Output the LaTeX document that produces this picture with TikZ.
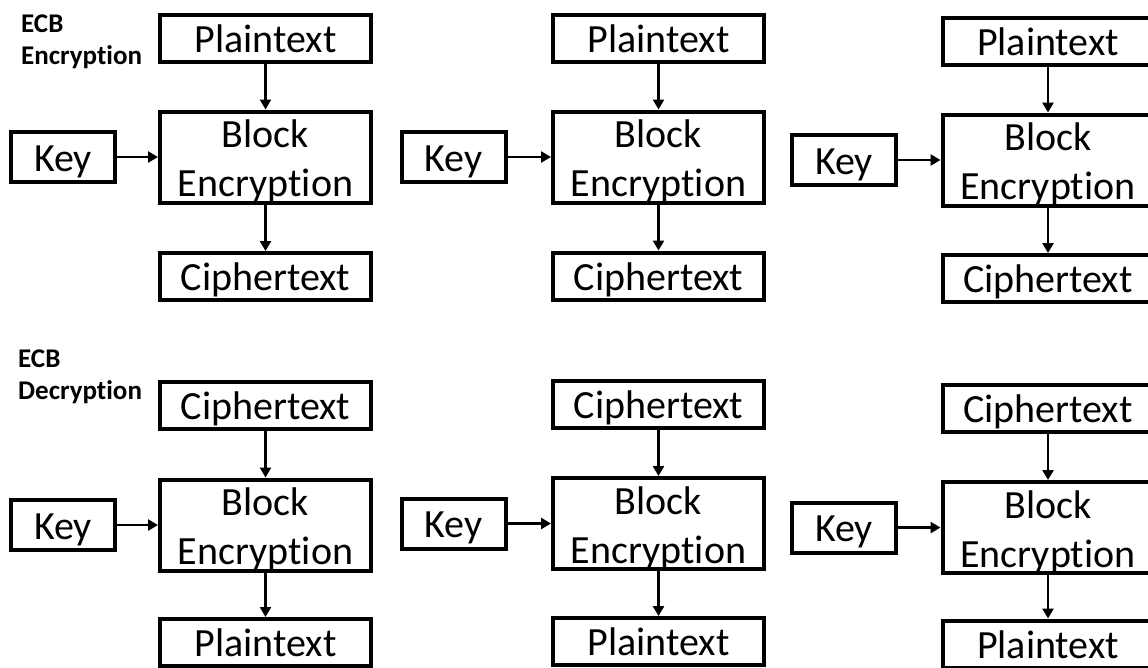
\documentclass[tikz,border=0pt]{standalone}
\usepackage{fontspec}
\setmainfont[Ligatures=NoCommon]{Carlito}
\usetikzlibrary{arrows.meta}

\begin{document}
\begin{tikzpicture}[x=1pt, y=-1pt,
		box/.style={draw, line width=4pt, inner sep=0pt, font=\fontsize{40}{49}\selectfont},
		txt/.style={box, minimum width=211pt, minimum height=47pt, text height=28pt, text depth=0pt},
		blk/.style={box, minimum width=211pt, minimum height=91pt, align=center, text height=79pt, text depth=0pt},
		keybox/.style={box, minimum width=104pt, minimum height=50pt, text height=28pt, text depth=0pt},
		arr/.style={line width=2.6pt, -{Triangle[length=10pt, width=11pt]}},
		title/.style={anchor=north west, align=left, inner sep=0pt, font=\fontsize{27}{32}\selectfont\bfseries}]
		\useasboundingbox (0,0) rectangle (1148,667);
		% ECB encryption
		\node[title] (enc) at (21,15) {ECB\\Encryption};
		\node[txt] (pt1) at (265.5,38) {Plaintext};
		\node[blk] (be1) at (265.5,157) {Block\\Encryption};
		\node[txt] (ct1) at (265.5,276.5) {Ciphertext};
		\node[keybox] (key1) at (63,157) {Key};
		\node[txt] (pt2) at (658.5,38) {Plaintext};
		\node[blk] (be2) at (658.5,157) {Block\\Encryption};
		\node[txt] (ct2) at (658.5,276) {Ciphertext};
		\node[keybox] (key2) at (453.5,157) {Key};
		\node[txt] (pt3) at (1048,41) {Plaintext};
		\node[blk] (be3) at (1048,160) {Block\\Encryption};
		\node[txt] (ct3) at (1048,278.5) {Ciphertext};
		\node[keybox] (key3) at (844,160) {Key};
		\draw[arr] (pt1) -- (be1);
		\draw[arr] (be1) -- (ct1);
		\draw[arr] (key1) -- (be1);
		\draw[arr] (pt2) -- (be2);
		\draw[arr] (be2) -- (ct2);
		\draw[arr] (key2) -- (be2);
		\draw[arr] (pt3) -- (be3);
		\draw[arr] (be3) -- (ct3);
		\draw[arr] (key3) -- (be3);
		% ECB decryption
		\node[title] (dec) at (18,350) {ECB\\Decryption};
		\node[txt] (ct4) at (265.5,405) {Ciphertext};
		\node[blk] (be4) at (265.5,525) {Block\\Encryption};
		\node[txt] (pt4) at (265.5,642.5) {Plaintext};
		\node[keybox] (key4) at (63,525) {Key};
		\node[txt] (ct5) at (658.5,404.5) {Ciphertext};
		\node[blk] (be5) at (658.5,523.5) {Block\\Encryption};
		\node[txt] (pt5) at (658.5,641.5) {Plaintext};
		\node[keybox] (key5) at (453.5,523.5) {Key};
		\node[txt] (ct6) at (1048,408.5) {Ciphertext};
		\node[blk] (be6) at (1048,527.5) {Block\\Encryption};
		\node[txt] (pt6) at (1048,644) {Plaintext};
		\node[keybox] (key6) at (844,527.5) {Key};
		\draw[arr] (ct4) -- (be4);
		\draw[arr] (be4) -- (pt4);
		\draw[arr] (key4) -- (be4);
		\draw[arr] (ct5) -- (be5);
		\draw[arr] (be5) -- (pt5);
		\draw[arr] (key5) -- (be5);
		\draw[arr] (ct6) -- (be6);
		\draw[arr] (be6) -- (pt6);
		\draw[arr] (key6) -- (be6);
	\end{tikzpicture}
\end{document}
